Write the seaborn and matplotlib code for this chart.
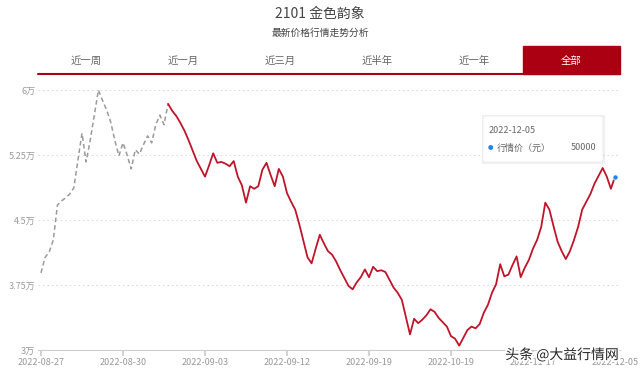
import numpy as np
import pandas as pd
import matplotlib.pyplot as plt
import matplotlib.patheffects as pe
from matplotlib.patches import Rectangle, FancyBboxPatch
import seaborn as sns

# price per point (元)
gray_prices = [38900, 40700, 41300, 42700, 46700, 47200, 47550, 48000, 48700, 51900,
               55000, 51700, 54200, 57100, 60000, 58800, 57700, 56300, 54200, 52400,
               53900, 52500, 50900, 53100, 52600, 53700, 54700, 53900, 56000, 57100,
               56000, 58400]
red_prices = [57600, 57000, 56200, 55300, 54200, 53000, 51800, 50900, 50000,
              51300, 52700, 51600, 51700, 51500, 51200, 51800, 50000, 49000, 47000,
              48900, 48600, 48900, 50800, 51600, 50200, 48900, 50900, 50000, 48100,
              47100, 46200, 44500, 42600, 40700, 40000, 41700, 43300, 42300, 41400,
              41000, 40200, 39200, 38300, 37400, 37000, 37800, 38400, 39300, 38400,
              39600, 39100, 39200, 39000, 38100, 37200, 36600, 35800, 33800, 31800,
              33600, 33100, 33500, 34000, 34700, 34400, 33700, 33200, 32700, 31600,
              31300, 30500, 31400, 32300, 32700, 32500, 33000, 34300, 35200, 36600,
              37600, 39900, 38500, 38700, 39800, 40800, 38400, 39500, 40400, 41700,
              42700, 44200, 47000, 46200, 44300, 42500, 41400, 40500, 41400, 42700,
              44200, 46200, 47100, 48000, 49200, 50100, 51000, 50000, 48600, 50000]

tick_labels = ["2022-08-27", "2022-08-30", "2022-09-03", "2022-09-12",
               "2022-09-19", "2022-10-19", "2022-11-17", "2022-12-05"]
y_ticks = [30000, 37500, 45000, 52500, 60000]
y_labels = ["3万", "3.75万", "4.5万", "5.25万", "6万"]
tabs = ["近一周", "近一月", "近三月", "近半年", "近一年", "全部"]

prices = gray_prices + red_prices
df = pd.DataFrame({"idx": np.arange(len(prices)), "price": prices})
n_gray = len(gray_prices)
df_gray = df.iloc[:n_gray]
df_red = df.iloc[n_gray - 1:]

sns.set_theme(style="white")
plt.rcParams["font.family"] = ["Noto Sans CJK SC", "DejaVu Sans"]

W, H = 640, 374
fig = plt.figure(figsize=(6.4, 3.74), dpi=100)
ax = fig.add_axes([38 / W, (H - 350) / H, 582 / W, 260 / H])

red = "#c0142b"
sns.lineplot(x="idx", y="price", data=df_gray, ax=ax, color="#9a9a9a",
             linewidth=1.1, linestyle=(0, (3, 2)))
sns.lineplot(x="idx", y="price", data=df_red, ax=ax, color=red, linewidth=1.3)
last = df.iloc[-1]
ax.scatter([last["idx"]], [last["price"]], s=14, color="#1e88f0", zorder=5,
           edgecolor="white", linewidth=0.5)

ax.set_xlim(-3 / 4.1, len(prices) - 1 + 5 / 4.1)
ax.set_ylim(30000, 60000)
ax.set_yticks(y_ticks)
ax.set_yticklabels(y_labels)
ax.set_xticks(np.arange(0, len(prices), 20))
ax.set_xticklabels(tick_labels)
ax.tick_params(axis="y", length=0, labelsize=6.5, labelcolor="#999999", pad=2)
ax.tick_params(axis="x", length=4, color="#cccccc", labelsize=6.5,
               labelcolor="#999999", pad=2, direction="out", bottom=True)
ax.set_xlabel("")
ax.set_ylabel("")
for y in y_ticks[1:]:
    ax.axhline(y, color="#dddddd", linewidth=0.8, linestyle=(0, (1.5, 2.5)), zorder=0)
for s in ["top", "right", "left"]:
    ax.spines[s].set_visible(False)
ax.spines["bottom"].set_color("#cccccc")
ax.spines["bottom"].set_linewidth(0.8)

# header
fig.text(320 / W, 1 - 14 / H, "2101 金色韵象", ha="center", va="center",
         fontsize=10, color="#444444")
fig.text(320 / W, 1 - 33 / H, "最新价格行情走势分析", ha="center", va="center",
         fontsize=7, color="#444444")

# tab bar
tab_w = 97
for i, t in enumerate(tabs):
    x0 = 38 + i * tab_w
    active = i == len(tabs) - 1
    if active:
        fig.patches.append(Rectangle((x0 / W, 1 - 74 / H), tab_w / W, 28 / H,
                                     transform=fig.transFigure, color="#ab0012",
                                     zorder=1))
    fig.text((x0 + tab_w / 2) / W, 1 - 61 / H, t, ha="center", va="center",
             fontsize=7.5, color="white" if active else "#666666", zorder=2)
fig.lines.append(plt.Line2D([38 / W, 620 / W], [1 - 74 / H, 1 - 74 / H],
                            transform=fig.transFigure, color="#ab0012",
                            linewidth=1.5))

# tooltip with a soft shadow
fig.patches.append(Rectangle((482 / W, 1 - 164 / H), 123 / W, 49 / H,
                             transform=fig.transFigure, facecolor="#000000",
                             alpha=0.06, linewidth=0, zorder=5))
fig.patches.append(FancyBboxPatch((483 / W, 1 - 162 / H), 120 / W, 46 / H,
                                  boxstyle="round,pad=0,rounding_size=0.005",
                                  transform=fig.transFigure, facecolor="white",
                                  edgecolor="#ececec", linewidth=0.6, zorder=6))
fig.text(489 / W, 1 - 130 / H, "2022-12-05", ha="left", va="center",
         fontsize=6.5, color="#666666", zorder=7)
fig.text(490 / W, 1 - 148 / H, "●", ha="center", va="center",
         fontsize=4, color="#1e88f0", zorder=7)
fig.text(497 / W, 1 - 148 / H, "行情价（元）", ha="left", va="center",
         fontsize=6.5, color="#666666", zorder=7)
fig.text(596 / W, 1 - 148 / H, "50000", ha="right", va="center",
         fontsize=6.5, color="#666666", zorder=7)

# watermark
fig.text(562 / W, 1 - 355 / H, "头条 @大益行情网", ha="center", va="center",
         fontsize=10, color="#222222", zorder=8,
         path_effects=[pe.withStroke(linewidth=2.5, foreground="white")])

fig.savefig("out.png", dpi=100)
